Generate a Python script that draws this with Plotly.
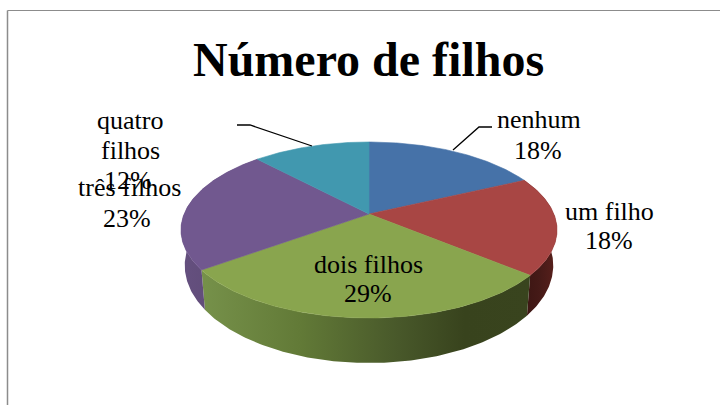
import numpy as np
import plotly.graph_objects as go

TITLE = "Número de filhos"
categories = ["nenhum", "um filho", "dois filhos", "três filhos", "quatro filhos"]
values = [18, 18, 29, 23, 12]
top_colors = ["#4672A8", "#A84644", "#89A54E", "#71588F", "#4198AF"]
side_scales = [
    [[0, "#34527a"], [1, "#34527a"]],
    [[0, "#3a1512"], [0.5, "#451a17"], [1, "#5a201c"]],
    [[0, "#76914a"], [0.3, "#627a37"], [0.6, "#48582a"], [0.8, "#38431d"], [1, "#39441e"]],
    [[0, "#65507f"], [1, "#5a4771"]],
    [[0, "#2f7286"], [1, "#2f7286"]],
]

# projection of the 3-D pie disc into the 720x405 page
CX, CY = 369, 214
A, B, K = 184.9, 85.1, 0.1818


def rim(theta):
    den = 1 + K * np.cos(theta)
    return CX + A * np.sin(theta) / den, CY - B * np.cos(theta) / den


def lower(x, y):
    depth = 36 + (y - 235) * 0.108
    return CX + (x - CX) * 0.98, y + depth


edges = np.radians(np.concatenate([[0], np.cumsum(values)]) / sum(values) * 360)
fig = go.Figure()

for i in range(len(values)):
    th = np.linspace(edges[i], edges[i + 1], 120)
    x, y = rim(th)
    bx, by = lower(x, y)
    if i in (1, 2, 3):
        fig.add_trace(go.Scatter(
            x=np.concatenate([x, bx[::-1]]), y=np.concatenate([y, by[::-1]]),
            mode="lines", line=dict(width=0), fill="toself",
            fillgradient=dict(type="horizontal", colorscale=side_scales[i]),
            hoverinfo="skip", showlegend=False))

for i, name in enumerate(categories):
    th = np.linspace(edges[i], edges[i + 1], 120)
    x, y = rim(th)
    fig.add_trace(go.Scatter(
        x=np.concatenate([[CX], x, [CX]]), y=np.concatenate([[CY], y, [CY]]),
        mode="lines", line=dict(width=0.6, color=top_colors[i]), fill="toself", fillcolor=top_colors[i],
        name=name, hoverinfo="name", showlegend=False))

# leader lines
for lx, ly in [([453, 479, 492], [150, 127, 127]), ([312, 250, 237], [146, 125, 125])]:
    fig.add_trace(go.Scatter(x=lx, y=ly, mode="lines", line=dict(color="#000000", width=1.3),
                             hoverinfo="skip", showlegend=False))

label_lines = [
    ("nenhum", 539, 119), ("18%", 538, 150),
    ("um filho", 609, 211), ("18%", 609, 240),
    ("dois filhos", 368, 264), ("29%", 368, 293),
    ("três filhos", 129, 187), ("23%", 127, 218),
    ("quatro", 130, 120), ("filhos", 130, 150), ("12%", 128, 180),
]
ann = [dict(x=tx, y=ty, text=t, showarrow=False, xanchor="center", yanchor="middle",
            font=dict(family="Liberation Serif", size=26, color="#000000"))
       for t, tx, ty in label_lines]
ann.append(dict(x=368.5, y=59, text=f"<b>{TITLE}</b>", showarrow=False, xanchor="center", yanchor="middle",
                font=dict(family="Liberation Serif", size=48, color="#000000")))

shapes = [dict(type="line", x0=7.5, x1=7.5, y0=10.5, y1=405, line=dict(color="#8c8c8c", width=1.5)),
          dict(type="line", x0=7.5, x1=720, y0=10.5, y1=10.5, line=dict(color="#8c8c8c", width=1.2))]

fig.update_layout(
    width=720, height=405, margin=dict(l=0, r=0, t=0, b=0),
    paper_bgcolor="white", plot_bgcolor="white", showlegend=False,
    xaxis=dict(range=[0, 720], visible=False, fixedrange=True),
    yaxis=dict(range=[405, 0], visible=False, fixedrange=True),
    annotations=ann, shapes=shapes)

fig.write_html("out.html", config={"displayModeBar": False},
               post_script="document.body.style.margin='0';document.body.style.overflow='hidden';")
